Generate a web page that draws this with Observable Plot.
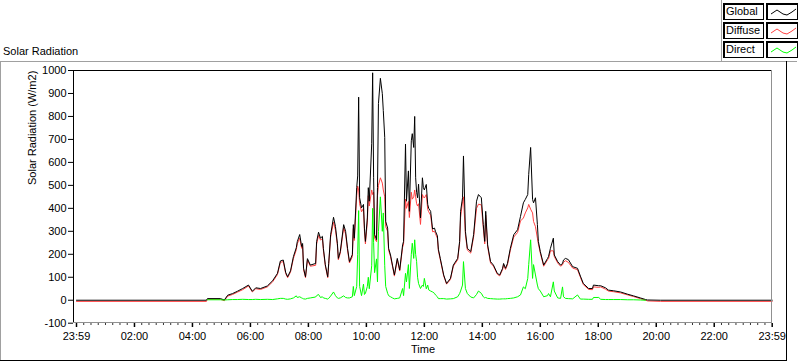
<!DOCTYPE html>
<html><head><meta charset="utf-8">
<script src="https://cdn.jsdelivr.net/npm/d3@7"></script>
<script src="https://cdn.jsdelivr.net/npm/@observablehq/plot@0.6"></script>
<style>
html,body{margin:0;padding:0;background:#fff;}
#wrap{position:relative;width:800px;height:361px;overflow:hidden;font-family:"Liberation Sans",Arial,sans-serif;color:#000;}
.abs{position:absolute;}
.lbox{position:absolute;box-sizing:border-box;border-top:2px solid #000;border-left:2px solid #000;border-right:1px solid #000;border-bottom:1px solid #000;background:#fff;}
.ltxt{font-size:11px;line-height:13px;padding-left:1px;white-space:nowrap;}
</style></head><body><div id="wrap"></div>
<script>
// time of day in minutes after midnight
const minute = [0,269,271,298,306,313,323,333,344,356,364,371,381,395,406,416,422,428,433,437,443,449,455,457,462,466,468,470,474,478,484,495,497,501,505,509,511,515,520,522,526,532,536,540,542,546,553,557,561,565,571,573,575,580,582,584,586,590,594,596,598,602,604,606,611,613,615,617,621,623,625,629,633,635,638,640,644,646,650,654,658,664,669,675,677,681,683,687,689,693,695,698,700,702,704,706,708,712,716,718,720,724,727,729,733,737,741,743,747,749,753,760,766,774,780,789,793,795,799,801,805,809,816,822,828,832,838,842,845,847,851,857,863,871,876,882,884,888,892,898,905,913,919,925,929,934,936,940,944,946,950,954,956,960,967,975,977,981,987,989,996,1002,1006,1008,1012,1018,1027,1037,1043,1049,1060,1068,1070,1081,1085,1095,1101,1112,1126,1141,1153,1167,1178,1182,1209,1440];
// W/m2
const globalW = [0,0,7,7,1,22,29,39,51,66,39,54,51,62,85,117,171,175,121,102,128,190,229,255,286,234,247,139,102,181,153,160,255,296,270,278,226,155,102,160,285,361,321,248,182,212,329,300,226,168,199,329,270,490,541,884,446,402,417,314,256,358,490,431,681,990,533,286,264,490,856,966,899,826,709,343,314,226,197,153,110,182,132,241,256,680,431,563,387,694,725,665,800,533,470,446,505,358,533,490,480,504,417,400,387,310,314,300,280,222,182,110,73,95,153,182,256,387,446,628,300,226,212,286,431,460,446,329,256,387,241,168,153,117,110,139,160,139,160,226,285,307,365,424,439,460,548,665,439,424,446,329,256,212,153,182,190,226,270,197,168,153,160,175,182,177,146,139,105,73,51,51,66,63,63,54,44,41,36,26,19,10,3,1,0,0];
const diffuseW = [-5,-5,4,4,-2,18,25,35,46,62,36,50,47,58,80,112,165,168,116,98,123,182,220,246,270,226,240,133,98,175,148,152,245,282,262,268,218,150,98,155,275,340,305,240,176,205,315,288,218,162,190,312,260,455,497,480,420,385,400,300,245,340,455,410,480,460,470,270,255,455,500,533,510,480,450,320,300,218,190,148,105,176,127,230,245,440,400,430,360,470,440,450,480,450,420,410,420,330,460,450,445,460,395,385,370,298,300,290,270,216,176,106,70,90,148,176,248,360,430,450,285,218,205,276,400,418,415,315,245,370,232,162,148,113,106,134,154,134,154,218,275,295,345,358,380,402,417,396,380,343,320,270,245,205,148,176,180,215,215,190,162,148,154,165,172,165,140,133,100,68,47,46,58,56,58,48,40,37,32,23,16,7,0,-3,-5,-5];
const directW = [null,null,2,2,1,2,3,3,4,3,3,4,3,4,3,6,8,8,5,4,6,10,19,12,15,10,8,6,5,8,10,14,20,25,12,15,10,8,5,8,18,36,20,10,8,10,19,12,10,10,15,60,20,60,200,390,60,20,70,25,30,60,100,50,150,400,250,120,180,80,300,450,300,380,150,60,30,20,15,10,6,8,10,51,20,117,80,155,51,200,248,182,263,200,168,100,73,51,66,60,95,50,66,45,40,36,30,23,15,7,7,7,5,6,7,15,29,40,66,168,51,29,14,10,25,40,30,15,10,12,8,7,6,5,5,6,6,6,7,8,10,15,23,58,50,95,155,263,95,155,110,66,50,40,15,20,29,15,80,40,10,8,58,15,8,7,6,23,5,5,4,4,12,12,4,3,3,3,3,2,2,1,0,null,null,null];
const seriesNames = ["Global","Diffuse","Direct"];
const seriesColors = ["#000000","#ff4040","#00ff00"];
const yTicks = [-100,0,100,200,300,400,500,600,700,800,900,1000];
const xTickMinutes = [0,120,240,360,480,600,720,840,960,1080,1200,1320,1440];
const xTickLabels = ["23:59","02:00","04:00","06:00","08:00","10:00","12:00","14:00","16:00","18:00","20:00","22:00","23:59"];
const chartTitle = "Solar Radiation";
const yLabel = "Solar Radiation (W/m2)";
const xLabel = "Time";

const rows = minute.map((m, i) => ({minute: m, global: globalW[i], diffuse: diffuseW[i], direct: directW[i]}));
const minorTicks = d3.range(0, 1441, 15).filter(m => m % 120 !== 0);
const FONT = "'Liberation Sans', Arial, sans-serif";

const wrap = document.getElementById("wrap");

const chart = Plot.plot({
  width: 800, height: 361,
  marginLeft: 73, marginRight: 28, marginTop: 70, marginBottom: 38,
  style: {background: "transparent", fontFamily: FONT, fontSize: "11px", color: "#000", overflow: "visible"},
  x: {domain: [0, 1440], range: [76, 771.7]},
  y: {domain: [-100, 1000], range: [322.7, 70]},
  marks: [
    Plot.axisY({ticks: yTicks, tickSize: 5, tickPadding: 2, tickFormat: d => String(d), label: null, stroke: "#000"}),
    Plot.axisX({ticks: minorTicks, tickSize: 2, tickFormat: () => "", label: null, stroke: "#333"}),
    Plot.axisX({ticks: xTickMinutes, tickSize: 4, tickPadding: 5, tickFormat: d => xTickLabels[xTickMinutes.indexOf(d)], label: null, stroke: "#000", strokeWidth: 1.5}),
    Plot.text([yLabel], {text: d => d, frameAnchor: "left", dx: -41, dy: -12, rotate: -90, fontSize: 11}),
    Plot.text([xLabel], {text: d => d, frameAnchor: "bottom", dy: 29, fontSize: 11}),
    Plot.line(rows, {x: "minute", y: "diffuse", stroke: seriesColors[1], strokeWidth: 1}),
    Plot.line(rows, {x: "minute", y: "global", stroke: seriesColors[0], strokeWidth: 1}),
    Plot.line(rows, {x: "minute", y: "direct", stroke: seriesColors[2], strokeWidth: 1})
  ]
});
chart.style.position = "absolute";
chart.style.left = "0px";
chart.style.top = "0px";
wrap.appendChild(chart);

function rect(l, t, w, h, bg) {
  const d = document.createElement("div");
  d.className = "abs";
  Object.assign(d.style, {left: l + "px", top: t + "px", width: w + "px", height: h + "px", background: bg});
  wrap.appendChild(d);
  return d;
}
// outer panel frame
rect(0, 61, 797, 1, "#a0a0a0");
rect(0, 61, 1, 299, "#a0a0a0");
rect(0, 360, 787, 1, "#000");
rect(786, 61, 1, 300, "#000");
rect(721, 0, 1, 61, "#a0a0a0");
// plot area border
rect(73, 70, 699, 1, "#000");
rect(73, 70, 1, 253, "#000");
rect(73, 322, 699, 1, "#909090");
rect(771, 70, 1, 253, "#909090");

// title
const t = document.createElement("div");
t.className = "abs";
Object.assign(t.style, {left: "3px", top: "45px", fontSize: "11px", fontFamily: FONT});
t.textContent = chartTitle;
wrap.appendChild(t);

// legend
const legendTops = [3, 22, 41];
seriesNames.forEach((name, i) => {
  const b = document.createElement("div");
  b.className = "lbox ltxt";
  Object.assign(b.style, {left: "723px", top: legendTops[i] + "px", width: "41px", height: "17px", fontFamily: FONT});
  b.textContent = name;
  wrap.appendChild(b);
  const s = document.createElement("div");
  s.className = "lbox";
  Object.assign(s.style, {left: "766px", top: legendTops[i] + "px", width: "32px", height: "17px"});
  s.innerHTML = `<svg width="29" height="14" style="display:block"><polyline points="3,9 9,5 15,9 19,10 24,7 28,4" fill="none" stroke="${seriesColors[i]}" stroke-width="1"/></svg>`;
  wrap.appendChild(s);
});
</script></body></html>
